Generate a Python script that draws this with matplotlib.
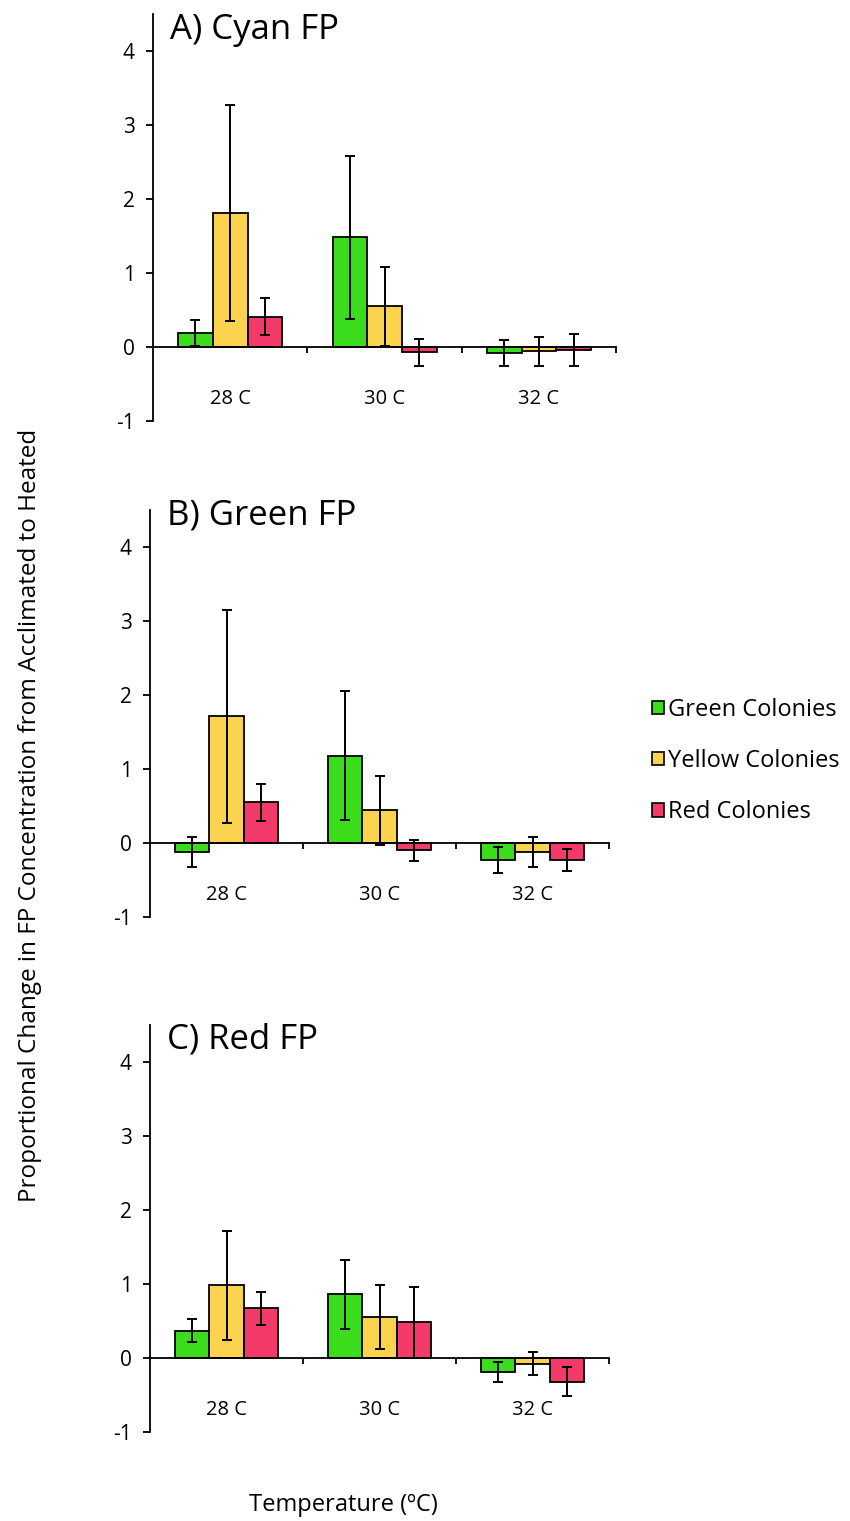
import matplotlib
matplotlib.use("Agg")
import matplotlib.pyplot as plt
import numpy as np
from matplotlib.patches import Patch

plt.rcParams['font.family'] = ['Open Sans', 'DejaVu Sans']

# data (mean, symmetric error)
temps = ["28 C", "30 C", "32 C"]
groups = ["Green Colonies", "Yellow Colonies", "Red Colonies"]
colors = ["#3bdc1c", "#fcd34e", "#f43a68"]
panel_titles = ["A) Cyan FP", "B) Green FP", "C) Red FP"]

cyan_means = [[0.19, 1.48, -0.08], [1.81, 0.55, -0.06], [0.41, -0.07, -0.04]]
cyan_errs = [[0.17, 1.10, 0.18], [1.46, 0.53, 0.19], [0.25, 0.18, 0.22]]
green_means = [[-0.12, 1.18, -0.23], [1.71, 0.44, -0.12], [0.55, -0.10, -0.23]]
green_errs = [[0.20, 0.87, 0.18], [1.44, 0.47, 0.20], [0.25, 0.14, 0.15]]
red_means = [[0.37, 0.86, -0.19], [0.98, 0.55, -0.08], [0.67, 0.48, -0.32]]
red_errs = [[0.16, 0.47, 0.14], [0.74, 0.43, 0.155], [0.22, 0.48, 0.20]]

all_means = [cyan_means, green_means, red_means]
all_errs = [cyan_errs, green_errs, red_errs]

fig = plt.figure(figsize=(8.5, 15.21), dpi=100)

# axes boxes in figure fractions
boxes = [[0.180, 0.7232, 0.545, 0.2676],
         [0.1765, 0.3971, 0.540, 0.2676],
         [0.1765, 0.0585, 0.540, 0.2676]]
title_y = [4.28, 4.43, 4.30]

width = 0.225
x = np.arange(len(temps)) + 0.5

for p in range(3):
    ax = fig.add_axes(boxes[p])
    means = all_means[p]
    errs = all_errs[p]
    for g in range(3):
        ax.bar(x + (g - 1) * width, means[g], width, color=colors[g],
               edgecolor="black", linewidth=1.3, zorder=2)
        ax.errorbar(x + (g - 1) * width, means[g], yerr=errs[g], fmt="none",
                    ecolor="black", elinewidth=1.4, capsize=3.5, capthick=1.4, zorder=3)
    ax.set_xlim(0, 3)
    ax.set_ylim(-1, 4.5)
    ax.spines['top'].set_visible(False)
    ax.spines['right'].set_visible(False)
    ax.spines['bottom'].set_position(('data', 0))
    ax.spines['bottom'].set_linewidth(1.3)
    ax.spines['left'].set_linewidth(1.3)
    ax.spines['bottom'].set_zorder(4)
    ax.set_yticks([-1, 0, 1, 2, 3, 4])
    ax.set_yticklabels(["-1", "0", "1", "2", "3", "4"])
    ax.tick_params(axis='y', direction='out', length=5, width=1.3, labelsize=15, pad=8)
    ax.set_xticks([1, 2, 3])
    ax.set_xticklabels([])
    ax.tick_params(axis='x', direction='out', length=4, width=1.3)
    for i, t in enumerate(temps):
        ax.text(x[i], -0.70, t, ha='center', va='center', fontsize=14.5)
    ax.text(0.11, title_y[p], panel_titles[p], ha='left', va='center', fontsize=25)

handles = [Patch(facecolor=colors[g], edgecolor="black", linewidth=1.2) for g in range(3)]
fig.legend(handles, groups, loc='center left', bbox_to_anchor=(0.742, 0.4996),
           frameon=False, fontsize=17, handlelength=0.5, handleheight=0.5,
           handletextpad=0.2, labelspacing=1.16)

fig.text(0.035, 0.464, "Proportional Change in FP Concentration from Acclimated to Heated",
         rotation=90, ha='center', va='center', fontsize=17.5)
fig.text(0.404, 0.0105, "Temperature (ºC)", ha='center', va='center', fontsize=17)

fig.savefig("out.png", dpi=100)
